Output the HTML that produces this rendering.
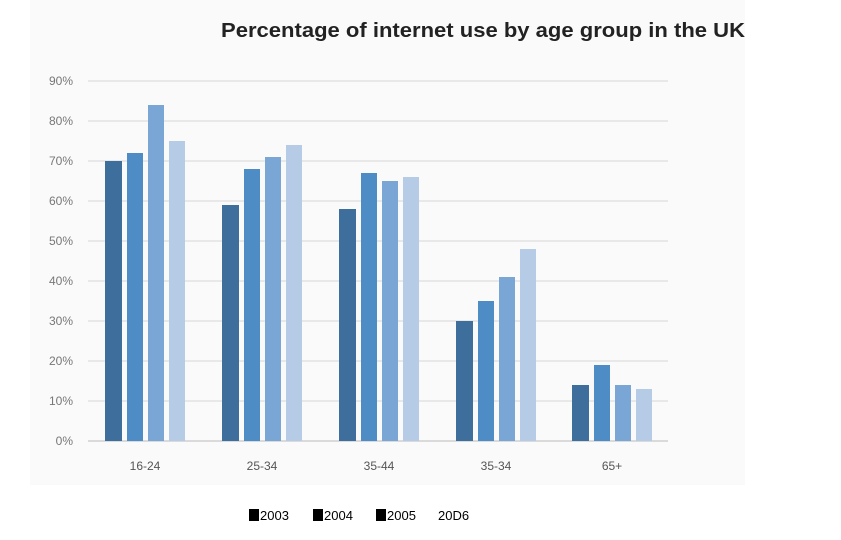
<!DOCTYPE html>
<html><head><style>
body{margin:0;background:#fff;}
svg{display:block;}
</style></head><body>
<svg width="841" height="540" xmlns="http://www.w3.org/2000/svg" font-family="Liberation Sans, sans-serif">
<rect x="0" y="0" width="841" height="540" fill="#fff"/>
<rect x="30" y="0" width="715" height="485" fill="#fafafa"/>
<text x="221" y="37" font-size="20" font-weight="bold" fill="#222" textLength="524" lengthAdjust="spacingAndGlyphs">Percentage of internet use by age group in the UK</text>
<g stroke="#e2e2e2" stroke-width="1.5">
<line x1="88" y1="81" x2="668" y2="81"/><line x1="88" y1="121" x2="668" y2="121"/>
<line x1="88" y1="161" x2="668" y2="161"/><line x1="88" y1="201" x2="668" y2="201"/>
<line x1="88" y1="241" x2="668" y2="241"/><line x1="88" y1="281" x2="668" y2="281"/>
<line x1="88" y1="321" x2="668" y2="321"/><line x1="88" y1="361" x2="668" y2="361"/>
<line x1="88" y1="401" x2="668" y2="401"/>
</g>
<line x1="88" y1="441" x2="668" y2="441" stroke="#cfcfcf" stroke-width="1.5"/>
<g font-size="12" fill="#777" text-anchor="end">
<text x="73" y="85">90%</text><text x="73" y="125">80%</text><text x="73" y="165">70%</text>
<text x="73" y="205">60%</text><text x="73" y="245">50%</text><text x="73" y="285">40%</text>
<text x="73" y="325">30%</text><text x="73" y="365">20%</text><text x="73" y="405">10%</text>
<text x="73" y="445">0%</text>
</g>
<g>
<rect x="105" y="161" width="17" height="280" fill="#3e6e9c"/>
<rect x="127" y="153" width="16" height="288" fill="#4d8cc4"/>
<rect x="148" y="105" width="16" height="336" fill="#7aa6d6"/>
<rect x="169" y="141" width="16" height="300" fill="#b6cbe6"/>
<rect x="222" y="205" width="17" height="236" fill="#3e6e9c"/>
<rect x="244" y="169" width="16" height="272" fill="#4d8cc4"/>
<rect x="265" y="157" width="16" height="284" fill="#7aa6d6"/>
<rect x="286" y="145" width="16" height="296" fill="#b6cbe6"/>
<rect x="339" y="209" width="17" height="232" fill="#3e6e9c"/>
<rect x="361" y="173" width="16" height="268" fill="#4d8cc4"/>
<rect x="382" y="181" width="16" height="260" fill="#7aa6d6"/>
<rect x="403" y="177" width="16" height="264" fill="#b6cbe6"/>
<rect x="456" y="321" width="17" height="120" fill="#3e6e9c"/>
<rect x="478" y="301" width="16" height="140" fill="#4d8cc4"/>
<rect x="499" y="277" width="16" height="164" fill="#7aa6d6"/>
<rect x="520" y="249" width="16" height="192" fill="#b6cbe6"/>
<rect x="572" y="385" width="17" height="56" fill="#3e6e9c"/>
<rect x="594" y="365" width="16" height="76" fill="#4d8cc4"/>
<rect x="615" y="385" width="16" height="56" fill="#7aa6d6"/>
<rect x="636" y="389" width="16" height="52" fill="#b6cbe6"/>
</g>
<g font-size="12" fill="#555" text-anchor="middle">
<text x="145" y="470">16-24</text><text x="262" y="470">25-34</text>
<text x="379" y="470">35-44</text><text x="496" y="470">35-34</text>
<text x="612" y="470">65+</text>
</g>
<g font-size="13" fill="#000">
<rect x="249" y="509" width="10" height="12" fill="#000"/><text x="260" y="520">2003</text>
<rect x="313" y="509" width="10" height="12" fill="#000"/><text x="324" y="520">2004</text>
<rect x="376" y="509" width="10" height="12" fill="#000"/><text x="387" y="520">2005</text>
<text x="438" y="520">20D6</text>
</g>
</svg>
</body></html>
